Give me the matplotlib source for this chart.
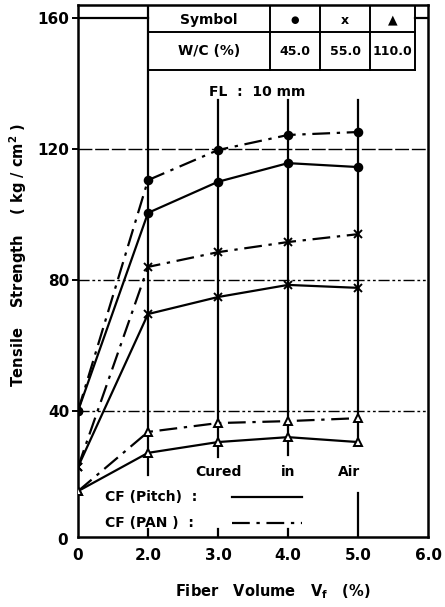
import numpy as np
import matplotlib.pyplot as plt

# fiber volume categories (equally spaced on the chart)
vf_labels = ['0', '2.0', '3.0', '4.0', '5.0', '6.0']
vf_pos = [0, 1, 2, 3, 4]

# tensile strength (kg/cm2), W/C 45.0 (circle), 55.0 (cross), 110.0 (triangle)
circ_pitch = [40, 100.5, 110, 115.7, 114.5]
circ_pan = [40, 110.5, 119.7, 124.3, 125.2]
cross_pitch = [22.9, 69.6, 74.8, 78.5, 77.6]
cross_pan = [22.9, 84, 88.5, 91.6, 94]
tri_pitch = [15.5, 27.2, 30.5, 32, 30.5]
tri_pan = [15.5, 33.6, 36.3, 36.9, 37.8]

y_ticks = [40, 80, 120, 160]
table_head = ['Symbol', '\u25cf', 'x', '\u25b2']
table_wc = ['W/C (%)', '45.0', '55.0', '110.0']

plt.rcParams['font.family'] = 'DejaVu Sans'
plt.rcParams['font.weight'] = 'bold'

fig = plt.figure(figsize=(4.45, 6.07), dpi=100)
ax = fig.add_axes([78/445, 70/607, 350/445, 532/607])
ax.set_xlim(0, 5)
ax.set_ylim(1.5, 164)

K = 'black'
pan_ls = (0, (8, 3, 1.5, 3))

series = [
    (circ_pitch, '-', 'o', K),
    (circ_pan, pan_ls, 'o', K),
    (cross_pitch, '-', 'x', K),
    (cross_pan, pan_ls, 'x', K),
    (tri_pitch, '-', '^', 'white'),
    (tri_pan, pan_ls, '^', 'white'),
]
for vals, ls, mk, fc in series:
    ax.plot(vf_pos, vals, color=K, lw=1.6, linestyle=ls, marker=mk,
            ms=5.5 if mk != 'x' else 6, mfc=fc, mec=K, mew=1.4, zorder=5)

# horizontal grid
ax.axhline(120, color=K, lw=1.0, ls=(0, (10, 2)))
ax.axhline(80, color=K, lw=1.0, ls=(0, (8, 2, 2, 2, 2, 2)))
ax.axhline(40, color=K, lw=1.0, ls=(0, (8, 2, 2, 2, 2, 2)))
ax.plot([0, 1], [160, 160], color=K, lw=1.6)
ax.plot([4.81, 5], [160, 160], color=K, lw=1.6)

# vertical lines (interrupted by the texts)
vl = dict(color=K, lw=1.6)
ax.plot([1, 1], [164, 20.4], **vl)
ax.plot([2, 2], [135, 26], **vl)
ax.plot([3, 3], [135, 26.5], **vl)
ax.plot([4, 4], [135, 29.6], **vl)
ax.plot([4, 4], [15, 1.5], **vl)
for xp in [1, 2, 3]:
    ax.plot([xp, xp], [1.5, 4], **vl)

# table in the top
tx = [1.0, 2.74, 3.46, 4.17, 4.81]
ty = [164, 155.7, 144.1]
for yv in ty[1:]:
    ax.plot([tx[0], tx[-1]], [yv, yv], color=K, lw=1.4)
for xv in tx:
    ax.plot([xv, xv], [ty[0], ty[2]], color=K, lw=1.4)
for i in range(4):
    xc = (tx[i] + tx[i + 1]) / 2
    fs = 10 if i == 0 else 9
    ax.text(xc, (ty[0] + ty[1]) / 2 - 0.5, table_head[i], ha='center', va='center',
            fontsize=fs if i != 1 else 7, fontweight='bold')
    ax.text(xc, (ty[1] + ty[2]) / 2, table_wc[i], ha='center', va='center',
            fontsize=10 if i == 0 else 9, fontweight='bold')

ax.text(2.56, 137.5, 'FL  :  10 mm', ha='center', va='center', fontsize=10)
ax.text(1.67, 21.5, 'Cured', ha='left', va='center', fontsize=10)
ax.text(3.0, 21.5, 'in', ha='center', va='center', fontsize=10)
ax.text(3.72, 21.5, 'Air', ha='left', va='center', fontsize=10)
ax.text(0.38, 13.8, 'CF (Pitch)  :', ha='left', va='center', fontsize=10)
ax.text(0.38, 5.8, 'CF (PAN )  :', ha='left', va='center', fontsize=10)
ax.plot([2.2, 3.2], [13.8, 13.8], color=K, lw=1.6)
ax.plot([2.2, 3.2], [5.8, 5.8], color=K, lw=1.6, ls=pan_ls)

# axes, ticks, labels
for s in ax.spines.values():
    s.set_linewidth(1.8)
ax.set_xticks(range(6))
ax.set_xticklabels(vf_labels, fontsize=11, fontweight='bold')
ax.set_yticks(y_ticks)
ax.set_yticklabels([str(v) for v in y_ticks], fontsize=11, fontweight='bold')
ax.tick_params(axis='y', length=4, width=1.4, direction='out', pad=2)
ax.tick_params(axis='x', length=0, pad=8)
ax.text(-0.22, 0.5, '0', ha='center', va='center', fontsize=11, fontweight='bold')

ax.set_ylabel('Tensile    Strength    ( kg / cm$^\\mathbf{2}$ )', fontsize=10.5, fontweight='bold')
ax.yaxis.set_label_coords(-0.14, 0.53)
ax.set_xlabel('Fiber   Volume   V$_\\mathbf{f}$   (%)', fontsize=10.5, fontweight='bold')
ax.xaxis.set_label_coords(0.557, -0.085)

fig.savefig('out.png', dpi=100)
